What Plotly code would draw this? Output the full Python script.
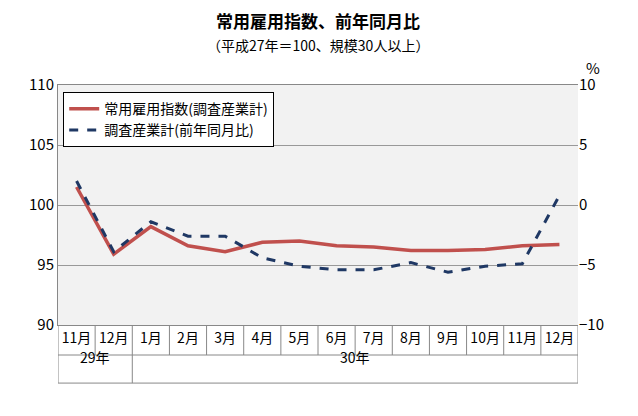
import plotly.graph_objects as go

months = ["11月","12月","1月","2月","3月","4月","5月","6月","7月","8月","9月","10月","11月","12月"]
years = ["29年","30年"]
index_vals = [101.5,95.9,98.2,96.6,96.1,96.9,97.0,96.6,96.5,96.2,96.2,96.3,96.6,96.7]
yoy_vals = [2.0,-3.9,-1.4,-2.6,-2.6,-4.4,-5.1,-5.4,-5.4,-4.8,-5.6,-5.1,-4.9,0.8]

xs = list(range(len(months)))
font = "Noto Sans CJK JP"
fig = go.Figure()
fig.add_trace(go.Scatter(x=xs, y=index_vals, mode="lines", name="常用雇用指数(調査産業計)",
                         line=dict(color="#c0504d", width=3.5)))
fig.add_trace(go.Scatter(x=xs, y=yoy_vals, mode="lines", name="調査産業計(前年同月比)", yaxis="y2",
                         line=dict(color="#1f3864", width=3, dash="dash")))

fig.update_layout(
    width=638, height=416, margin=dict(l=50, r=68, t=77, b=99),
    paper_bgcolor="white", plot_bgcolor="#f2f2f2",
    font=dict(family=font, size=14, color="black"),
    showlegend=True,
    legend=dict(x=0.01, y=0.97, xanchor="left", yanchor="top", bgcolor="white",
                bordercolor="black", borderwidth=1, font=dict(size=14), tracegroupgap=4),
    xaxis=dict(range=[-0.5, 13.5], tickvals=xs, ticktext=months, showgrid=False, zeroline=False,
               showline=True, linecolor="#888", mirror=True, ticks="", tickfont=dict(size=14)),
    yaxis=dict(range=[90, 110], dtick=5, gridcolor="#999", showline=True, linecolor="#888",
               ticks="", zeroline=False, tickfont=dict(size=15)),
    yaxis2=dict(range=[-10, 10], dtick=5, overlaying="y", side="right", showgrid=False,
                ticks="", zeroline=False, tickfont=dict(size=15)),
)
fig.add_annotation(text="<b>常用雇用指数、前年同月比</b>", x=0.5, y=1.0, yshift=79, xref="paper", yref="paper",
                   showarrow=False, font=dict(size=17))
fig.add_annotation(text="（平成27年＝100、規模30人以上）", x=0.5, y=1.0, yshift=52, xref="paper", yref="paper",
                   showarrow=False, font=dict(size=14))
fig.add_annotation(text="%", x=1.0, xshift=24, y=1.0, yshift=30, xref="paper", yref="paper",
                   showarrow=False, font=dict(size=15))

r1, r2 = -0.125, -0.242
lc = dict(color="#888", width=1)
for i in range(15):
    b = i - 0.5
    fig.add_shape(type="line", xref="x", yref="paper", x0=b, x1=b, y0=0, y1=r1, line=lc)
for b in [-0.5, 1.5, 13.5]:
    fig.add_shape(type="line", xref="x", yref="paper", x0=b, x1=b, y0=r1, y1=r2, line=lc)
for y in [r1, r2]:
    fig.add_shape(type="line", xref="x", yref="paper", x0=-0.5, x1=13.5, y0=y, y1=y, line=lc)
fig.add_annotation(text=years[0], x=0.5, y=(r1 + r2) / 2, xref="x", yref="paper", showarrow=False)
fig.add_annotation(text=years[1], x=7.5, y=(r1 + r2) / 2, xref="x", yref="paper", showarrow=False)
fig.write_html("out.html")
